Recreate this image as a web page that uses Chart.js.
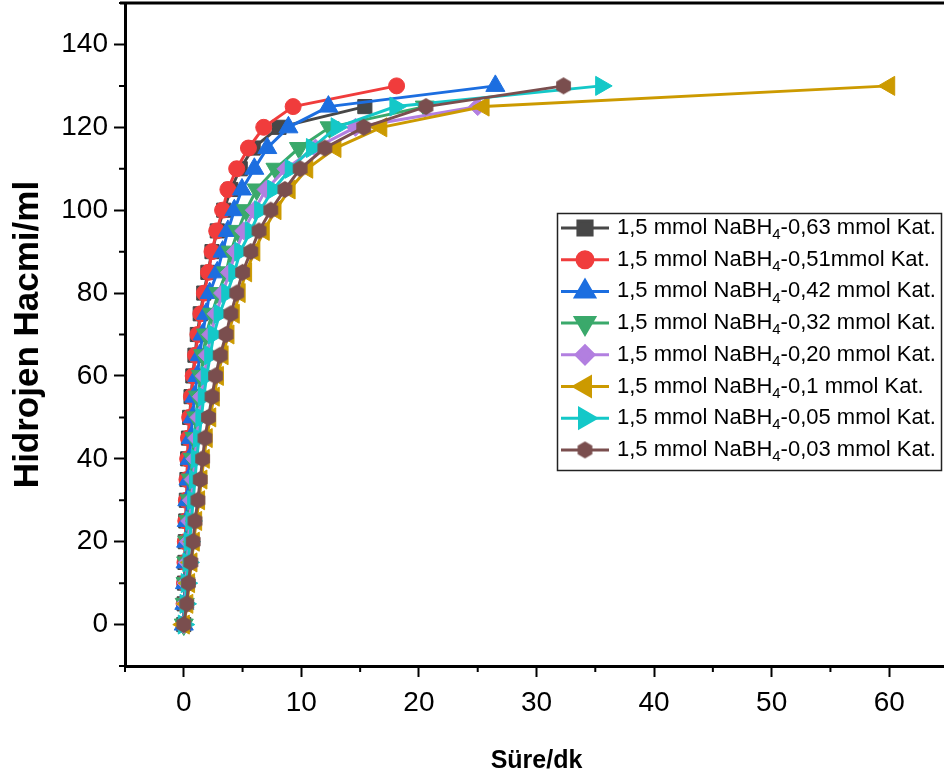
<!DOCTYPE html>
<html lang="tr">
<head>
<meta charset="UTF-8">
<title>Hidrojen Hacmi</title>
<script src="https://cdn.jsdelivr.net/npm/chart.js"></script>
<style>
  html, body { margin: 0; padding: 0; background: #fff; overflow: hidden; }
  .kutu { position: relative; width: 944px; height: 780px; overflow: hidden; }
  .kutu canvas { position: absolute; left: 0; top: 0; }
</style>
</head>
<body>
<div class="kutu"><canvas id="grafik" width="952" height="780"></canvas></div>
<script>
// hidrojen hacmi (ml), her seri 0'dan 5'er artar
const hacim = [0, 5, 10, 15, 20, 25, 30, 35, 40, 45, 50, 55, 60, 65, 70, 75, 80, 85, 90, 95, 100, 105, 110, 115, 120, 125, 130];

// süre (dk) değerleri
const kat063 = [0, 0.03, 0.06, 0.1, 0.13, 0.17, 0.22, 0.27, 0.33, 0.4, 0.5, 0.62, 0.77, 0.95, 1.15, 1.4, 1.7, 2.05, 2.4, 2.85, 3.4, 4.0, 4.8, 5.9, 8.1, 15.4];
const kat051 = [0, 0.03, 0.06, 0.1, 0.13, 0.17, 0.22, 0.27, 0.33, 0.4, 0.5, 0.65, 0.8, 1.0, 1.2, 1.45, 1.75, 2.1, 2.4, 2.8, 3.3, 3.75, 4.5, 5.5, 6.8, 9.3, 18.1];
const kat042 = [0, 0.05, 0.1, 0.15, 0.2, 0.25, 0.3, 0.4, 0.5, 0.6, 0.75, 0.9, 1.15, 1.35, 1.6, 1.9, 2.2, 2.85, 3.3, 3.75, 4.3, 4.95, 6.0, 7.1, 8.9, 12.3, 26.5];
const kat032 = [0, 0.08, 0.15, 0.2, 0.3, 0.4, 0.5, 0.6, 0.75, 0.9, 1.05, 1.2, 1.45, 1.65, 1.9, 2.4, 2.95, 3.6, 4.0, 4.6, 5.3, 6.2, 7.8, 9.8, 12.4, 20.5];
const kat020 = [0, 0.1, 0.2, 0.3, 0.4, 0.5, 0.65, 0.8, 0.95, 1.1, 1.3, 1.5, 1.75, 2.0, 2.3, 2.75, 3.3, 3.9, 4.4, 5.1, 6.0, 7.0, 8.7, 11.2, 14.6, 25.0];
const kat010 = [0, 0.3, 0.45, 0.65, 0.85, 1.05, 1.3, 1.5, 1.7, 1.95, 2.25, 2.55, 2.9, 3.3, 3.8, 4.25, 4.75, 5.3, 6.0, 6.8, 7.8, 9.0, 10.5, 12.9, 16.8, 25.5, 60.0];
const kat005 = [0, 0.15, 0.25, 0.4, 0.5, 0.65, 0.8, 0.95, 1.1, 1.3, 1.5, 1.7, 1.95, 2.25, 2.55, 3.05, 3.7, 4.3, 4.8, 5.7, 6.5, 7.6, 9.1, 10.9, 13.0, 18.0, 35.5];
const kat003 = [0, 0.25, 0.4, 0.6, 0.8, 0.95, 1.2, 1.4, 1.6, 1.8, 2.1, 2.4, 2.7, 3.1, 3.6, 4.0, 4.5, 5.0, 5.7, 6.4, 7.4, 8.6, 9.9, 12.0, 15.3, 20.6, 32.3];

const katMiktar = ['0,63 mmol Kat.', '0,51mmol Kat.', '0,42 mmol Kat.', '0,32 mmol Kat.', '0,20 mmol Kat.', '0,1 mmol Kat.', '0,05 mmol Kat.', '0,03 mmol Kat.'];
const seriler = [kat063, kat051, kat042, kat032, kat020, kat010, kat005, kat003];
const renkler = ['#474747', '#f03c3c', '#1c6ee0', '#3aa96b', '#b27fe0', '#cc9a00', '#14c8c8', '#7a4e4e'];

const xTikler = [0, 10, 20, 30, 40, 50, 60];
const yTikler = [0, 20, 40, 60, 80, 100, 120, 140];

const yazi = '"Liberation Sans", Arial, sans-serif';

// altıgen işaret (Chart.js'te hazır yok)
function altigen(r, renk) {
  const c = document.createElement('canvas');
  const s = Math.ceil(r * 2) + 2;
  c.width = s; c.height = s;
  const g = c.getContext('2d');
  g.fillStyle = renk;
  g.beginPath();
  for (let i = 0; i < 6; i++) {
    const a = -Math.PI / 2 + i * Math.PI / 3;
    const px = s / 2 + r * Math.cos(a), py = s / 2 + r * Math.sin(a);
    if (i === 0) g.moveTo(px, py); else g.lineTo(px, py);
  }
  g.closePath();
  g.fill();
  return c;
}

const isaretler = [
  { stil: 'rect', r: 10, don: 0 },
  { stil: 'circle', r: 8, don: 0 },
  { stil: 'triangle', r: 11, don: 0 },
  { stil: 'triangle', r: 11, don: 180 },
  { stil: 'rectRot', r: 9, don: 0 },
  { stil: 'triangle', r: 11, don: 270 },
  { stil: 'triangle', r: 11, don: 90 },
  { stil: altigen(8.5, renkler[7]), r: 9, don: 0 }
];

const veriSetleri = seriler.map((s, i) => ({
  label: '1,5 mmol NaBH4-' + katMiktar[i],
  data: s.map((x, j) => ({ x: x, y: hacim[j] })),
  borderColor: renkler[i],
  backgroundColor: renkler[i],
  borderWidth: 3,
  pointStyle: isaretler[i].stil,
  pointRadius: isaretler[i].r,
  pointRotation: isaretler[i].don,
  pointBackgroundColor: renkler[i],
  pointBorderColor: renkler[i],
  pointBorderWidth: 1,
  tension: 0,
  order: 7 - i
}));

// ara çentikler + üst çerçeve
const cerceve = {
  id: 'cerceve',
  afterDraw(chart) {
    const ctx = chart.ctx, a = chart.chartArea;
    const xs = chart.scales.x, ys = chart.scales.y;
    ctx.save();
    ctx.strokeStyle = '#000';
    ctx.lineWidth = 3;
    ctx.beginPath();
    ctx.moveTo(a.left - 5, a.top);
    ctx.lineTo(a.right, a.top);
    ctx.lineTo(a.right, a.bottom);
    ctx.stroke();
    ctx.lineWidth = 2;
    ctx.beginPath();
    for (let v = -5; v <= 65; v += 10) {
      const px = xs.getPixelForValue(v);
      ctx.moveTo(px, a.bottom);
      ctx.lineTo(px, a.bottom + 6);
    }
    for (let v = -10; v <= 150; v += 20) {
      const py = ys.getPixelForValue(v);
      ctx.moveTo(a.left, py);
      ctx.lineTo(a.left - 6, py);
    }
    ctx.stroke();
    ctx.restore();
  }
};

// grafiğin içindeki lejant, NaBH4 alt simgeli
const lejant = {
  id: 'lejant',
  afterDraw(chart) {
    const ctx = chart.ctx;
    const kx = 557, ky = 213, kw = 384, kh = 257;
    ctx.save();
    ctx.fillStyle = '#fff';
    ctx.fillRect(kx, ky, kw, kh);
    ctx.strokeStyle = '#222';
    ctx.lineWidth = 1.5;
    ctx.strokeRect(kx + 0.5, ky + 0.5, kw, kh);
    const font = '22px ' + yazi;
    const kucuk = '15px ' + yazi;
    chart.data.datasets.forEach((ds, i) => {
      const y = 228 + i * 31.7;
      ctx.strokeStyle = ds.borderColor;
      ctx.lineWidth = 3;
      ctx.beginPath();
      ctx.moveTo(561, y);
      ctx.lineTo(609, y);
      ctx.stroke();
      ctx.fillStyle = ds.backgroundColor;
      Chart.helpers.drawPoint(ctx, {
        pointStyle: ds.pointStyle,
        radius: ds.pointRadius,
        rotation: ds.pointRotation,
        borderWidth: 1
      }, 585, y);
      ctx.fillStyle = '#000';
      ctx.textBaseline = 'middle';
      let tx = 617;
      ctx.font = font;
      ctx.fillText('1,5 mmol NaBH', tx, y);
      tx += ctx.measureText('1,5 mmol NaBH').width;
      ctx.font = kucuk;
      ctx.fillText('4', tx, y + 7);
      tx += ctx.measureText('4').width;
      ctx.font = font;
      ctx.fillText('-' + katMiktar[i], tx, y);
    });
    ctx.restore();
  }
};

new Chart(document.getElementById('grafik'), {
  type: 'line',
  data: { datasets: veriSetleri },
  options: {
    responsive: false,
    animation: false,
    layout: { autoPadding: false, padding: { top: 3, right: 4, left: 0, bottom: 0 } },
    plugins: { legend: { display: false }, tooltip: { enabled: false } },
    scales: {
      x: {
        type: 'linear',
        min: -5,
        max: 65,
        afterFit: s => { s.height = 114; s.paddingLeft = 0; s.paddingRight = 0; },
        afterBuildTicks: s => { s.ticks = xTikler.map(v => ({ value: v })); },
        border: { color: '#000', width: 3 },
        grid: { drawOnChartArea: false, tickLength: 11, tickColor: '#000', tickWidth: 2 },
        ticks: { color: '#000', font: { family: yazi, size: 28 }, padding: 9, maxRotation: 0 },
        title: { display: true, text: 'Süre/dk', color: '#000', font: { family: yazi, size: 25, weight: 'bold' }, padding: { top: 0, bottom: 4 } }
      },
      y: {
        type: 'linear',
        min: -10,
        max: 150,
        afterFit: s => { s.width = 125; s.paddingTop = 0; s.paddingBottom = 0; },
        afterBuildTicks: s => { s.ticks = yTikler.map(v => ({ value: v })); },
        border: { color: '#000', width: 3 },
        grid: { drawOnChartArea: false, tickLength: 11, tickColor: '#000', tickWidth: 2 },
        ticks: { color: '#000', font: { family: yazi, size: 28 }, padding: 6 },
        title: { display: true, text: 'Hidrojen Hacmi/ml', color: '#000', font: { family: yazi, size: 35, weight: 'bold' }, padding: { top: 7, bottom: 0 } }
      }
    }
  },
  plugins: [cerceve, lejant]
});
</script>
</body>
</html>
